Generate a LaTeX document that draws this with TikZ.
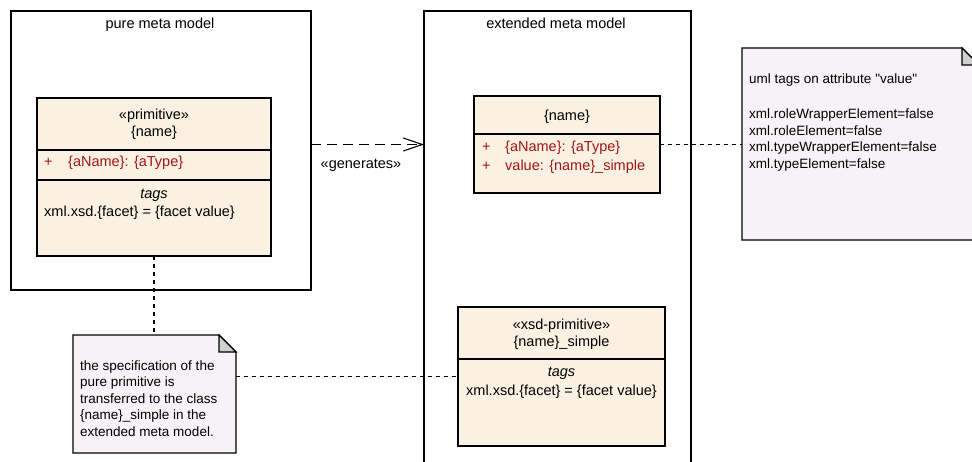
\documentclass[tikz,border=0pt]{standalone}
\usepackage{fontspec}
\setmainfont{Liberation Sans}[Ligatures=TeXOff]
\usetikzlibrary{arrows.meta,calc}
\definecolor{clsfill}{RGB}{251,241,227}
\definecolor{notefill}{RGB}{247,242,246}
\definecolor{foldfill}{RGB}{208,208,210}
\definecolor{attrred}{RGB}{163,21,21}
\begin{document}
\begin{tikzpicture}[x=1pt,y=-1pt,
  box/.style={draw=black, line width=1.1pt, inner sep=0pt, outer sep=0pt},
  pkg/.style={box, fill=white},
  cls/.style={box, fill=clsfill},
  notebox/.style={inner sep=0pt, outer sep=0pt},
  noteline/.style={draw=black, line width=1.1pt, fill=notefill},
  foldline/.style={draw=black, line width=1.1pt, fill=foldfill},
  txt/.style={inner sep=0pt, text height=11pt, text depth=2pt, font=\fontsize{14.5}{17}\selectfont},
  ntxt/.style={inner sep=0pt, anchor=west, text height=10.5pt, text depth=2pt, font=\fontsize{13.5}{16}\selectfont},
  attr/.style={txt, anchor=west, text=attrred},
  dotline/.style={line width=1.1pt, dash pattern=on 4pt off 4pt},
  depline/.style={line width=1.1pt, dash pattern=on 10pt off 6pt, -{Straight Barb[length=19pt,width=13pt,line width=1.1pt]}}
]
\useasboundingbox (0,0) rectangle (972,461);
\clip (0,0) rectangle (972,461);

% packages
\node[pkg, minimum width=300pt, minimum height=279pt] (pkgA) at (161,150.5) {};
\node[pkg, minimum width=267pt, minimum height=480pt] (pkgB) at (557.5,251) {};
\node[txt] (pkgAtitle) at (160,24) {pure meta model};
\node[txt] (pkgBtitle) at (556,24) {extended meta model};

% class primitive
\node[cls, minimum width=234pt, minimum height=158pt] (clsPrim) at (154,177) {};
\draw[line width=1.1pt] (clsPrim.west |- 0,150) -- (clsPrim.east |- 0,150);
\draw[line width=1.1pt] (clsPrim.west |- 0,180) -- (clsPrim.east |- 0,180);
\node[txt] (primSt) at (154,115) {«primitive»};
\node[txt] (primName) at (154,132) {\{name\}};
\node[attr] (primPlus) at (44,162) {+};
\node[attr] (primAttr) at (68,162) {\{aName\}: \{aType\}};
\node[txt, font=\fontsize{14.5}{17}\selectfont\itshape] (primTags) at (154,194) {tags};
\node[txt, anchor=west] (primFacet) at (44,212) {xml.xsd.\{facet\} = \{facet value\}};

% class {name}
\node[cls, minimum width=186pt, minimum height=97pt] (clsName) at (567,144.5) {};
\draw[line width=1.1pt] (clsName.west |- 0,134) -- (clsName.east |- 0,134);
\node[txt] (nameName) at (567,116) {\{name\}};
\node[attr] (namePlusA) at (482,147) {+};
\node[attr] (nameAttrA) at (505,147) {\{aName\}: \{aType\}};
\node[attr] (namePlusB) at (482,166) {+};
\node[attr] (nameAttrB) at (505,166) {value: \{name\}\_simple};

% class {name}_simple
\node[cls, minimum width=207pt, minimum height=139pt] (clsSimple) at (561.5,376.5) {};
\draw[line width=1.1pt] (clsSimple.west |- 0,359) -- (clsSimple.east |- 0,359);
\node[txt] (simpSt) at (561.5,325) {«xsd-primitive»};
\node[txt] (simpName) at (561.5,342) {\{name\}\_simple};
\node[txt, font=\fontsize{14.5}{17}\selectfont\itshape] (simpTags) at (561.5,372) {tags};
\node[txt] (simpFacet) at (561.5,391) {xml.xsd.\{facet\} = \{facet value\}};

% note right
\node[notebox, minimum width=237pt, minimum height=192pt] (noteR) at (860.5,144) {};
\draw[noteline] (noteR.north west) -- ([xshift=-17pt]noteR.north east) -- ([yshift=-17pt]noteR.north east) -- (noteR.south east) -- (noteR.south west) -- cycle;
\draw[foldline] ([xshift=-17pt]noteR.north east) -- ([xshift=-17pt,yshift=-17pt]noteR.north east) -- ([yshift=-17pt]noteR.north east) -- cycle;
\node[ntxt] (nr1) at (749,79) {uml tags on attribute "value"};
\node[ntxt] (nr2) at (749,114) {xml.roleWrapperElement=false};
\node[ntxt] (nr3) at (749,131) {xml.roleElement=false};
\node[ntxt] (nr4) at (749,147.5) {xml.typeWrapperElement=false};
\node[ntxt] (nr5) at (749,164) {xml.typeElement=false};

% note left
\node[notebox, minimum width=163pt, minimum height=118pt] (noteL) at (154.5,394) {};
\draw[noteline] (noteL.north west) -- ([xshift=-17pt]noteL.north east) -- ([yshift=-17pt]noteL.north east) -- (noteL.south east) -- (noteL.south west) -- cycle;
\draw[foldline] ([xshift=-17pt]noteL.north east) -- ([xshift=-17pt,yshift=-17pt]noteL.north east) -- ([yshift=-17pt]noteL.north east) -- cycle;
\node[ntxt] (nl1) at (80,366) {the specification of the};
\node[ntxt] (nl2) at (80,382.5) {pure primitive is};
\node[ntxt] (nl3) at (80,399) {transferred to the class};
\node[ntxt] (nl4) at (80,415.5) {\{name\}\_simple in the};
\node[ntxt] (nl5) at (80,432) {extended meta model.};

% connectors
\draw[depline] (pkgA.east |- clsName.west) -- (pkgB.west |- clsName.west);
\node[txt] (genLbl) at (361,164) {«generates»};
\draw[dotline] (clsName.east) -- (noteR.west |- clsName.east);
\draw[dotline] (clsPrim.south) -- (noteL.north -| clsPrim.south);
\draw[dotline] (noteL.east |- clsSimple.west) -- (clsSimple.west);
\end{tikzpicture}
\end{document}
